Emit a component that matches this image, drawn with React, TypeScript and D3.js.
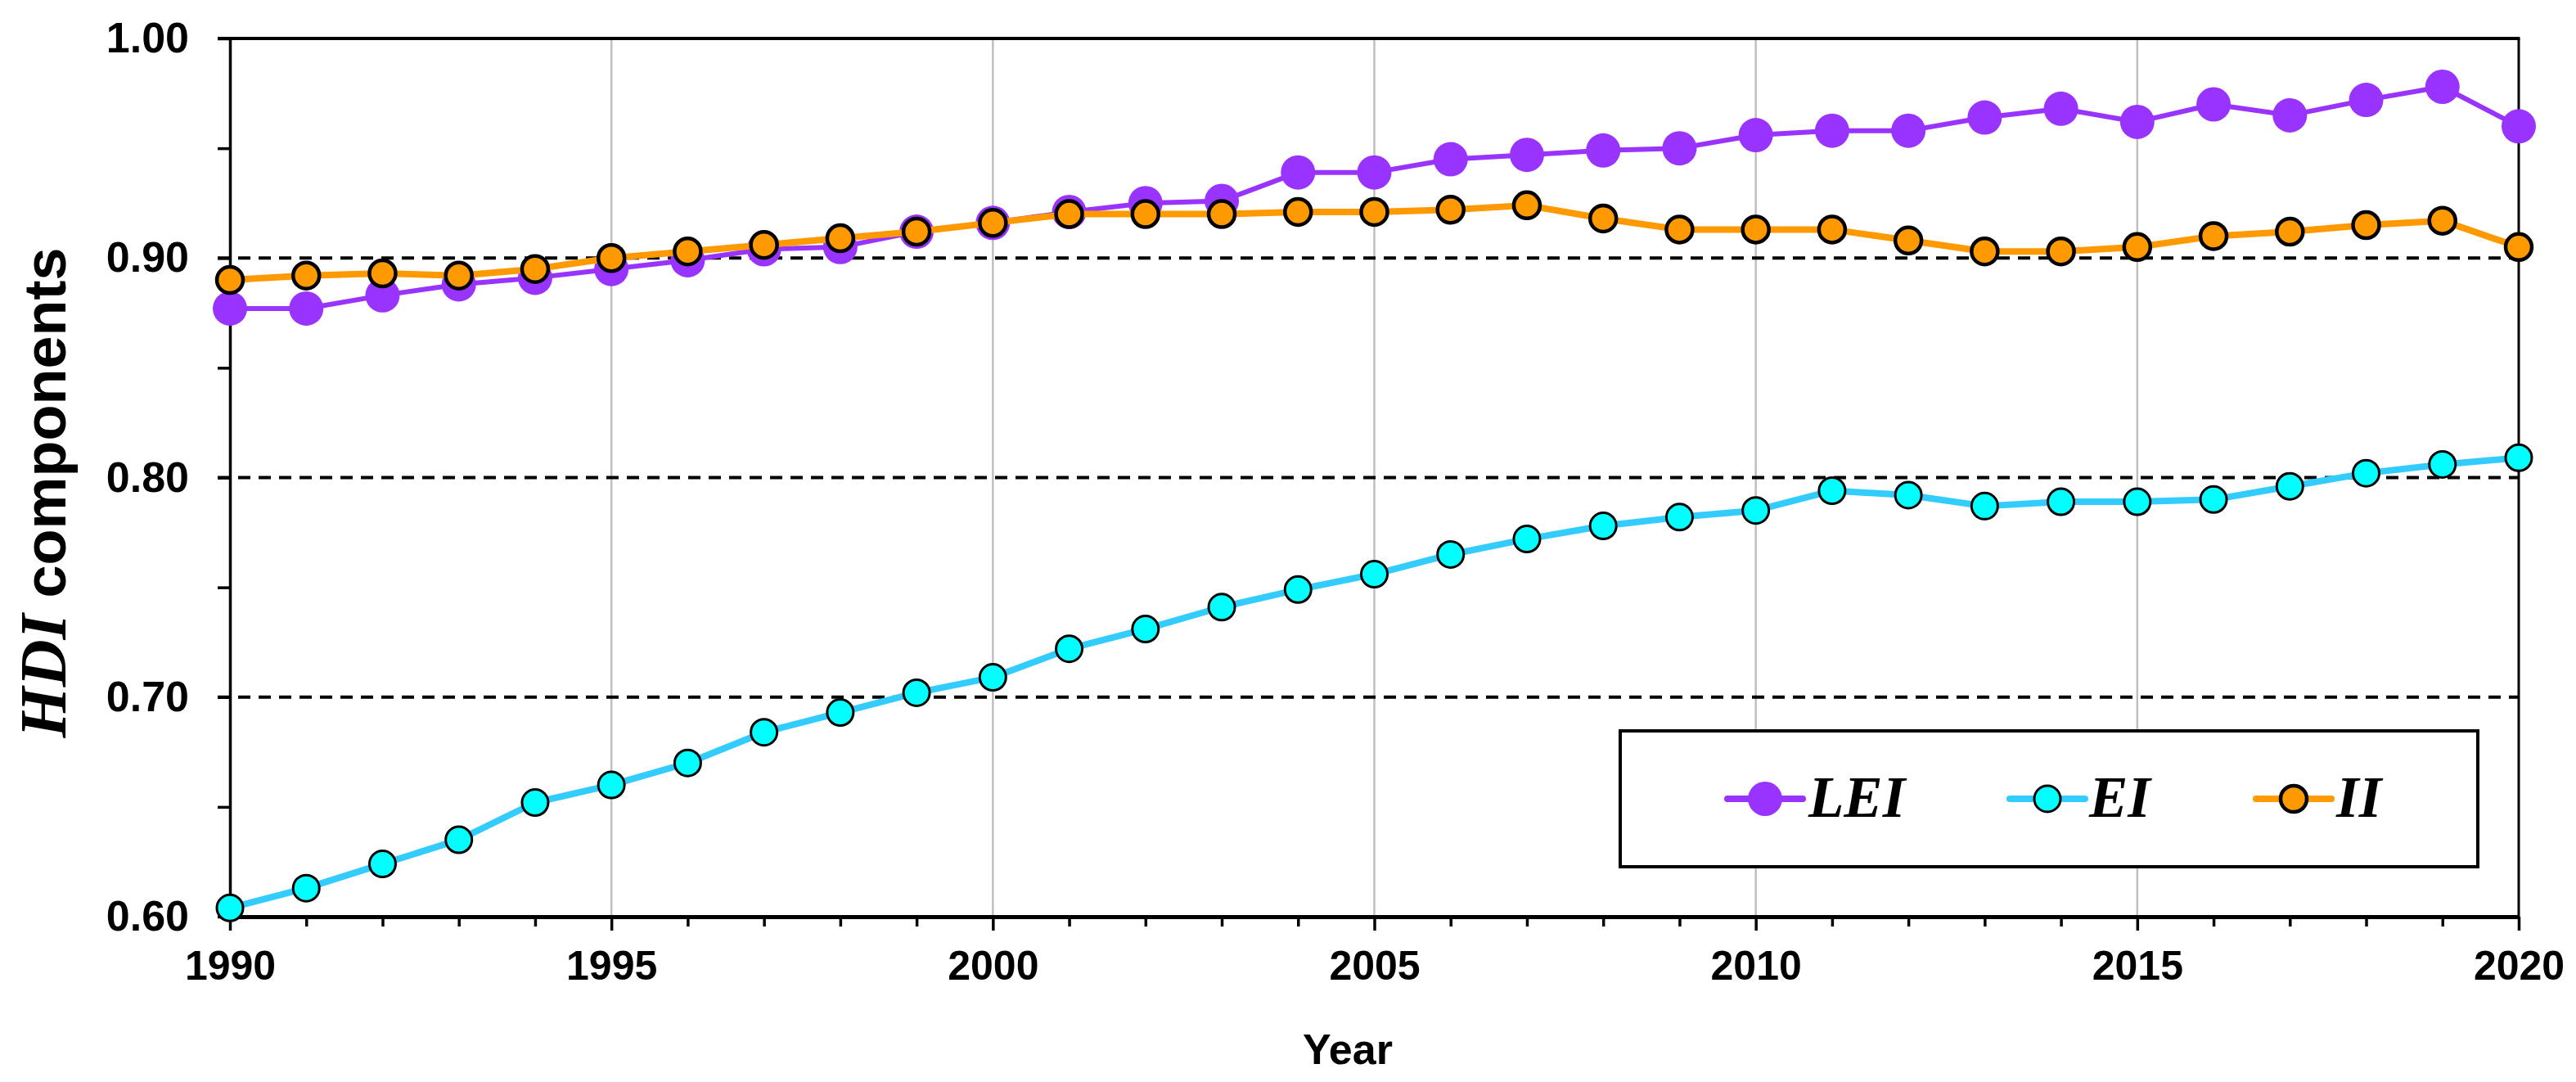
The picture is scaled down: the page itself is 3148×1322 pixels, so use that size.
import { useRef, useEffect } from "react";
import * as d3 from "d3";

const years = [
  1990, 1991, 1992, 1993, 1994, 1995, 1996, 1997, 1998, 1999, 2000, 2001, 2002, 2003, 2004, 2005,
  2006, 2007, 2008, 2009, 2010, 2011, 2012, 2013, 2014, 2015, 2016, 2017, 2018, 2019, 2020,
];

const leiValues = [
  0.877, 0.877, 0.883, 0.888, 0.891, 0.895, 0.899, 0.904, 0.905, 0.912, 0.916, 0.921, 0.925, 0.926,
  0.939, 0.939, 0.945, 0.947, 0.949, 0.95, 0.956, 0.958, 0.958, 0.964, 0.968, 0.962, 0.97, 0.965,
  0.972, 0.978, 0.96,
];

const eiValues = [
  0.604, 0.613, 0.624, 0.635, 0.652, 0.66, 0.67, 0.684, 0.693, 0.702, 0.709, 0.722, 0.731, 0.741,
  0.749, 0.756, 0.765, 0.772, 0.778, 0.782, 0.785, 0.794, 0.792, 0.787, 0.789, 0.789, 0.79, 0.796,
  0.802, 0.806, 0.809,
];

const iiValues = [
  0.89, 0.892, 0.893, 0.892, 0.895, 0.9, 0.903, 0.906, 0.909, 0.912, 0.916, 0.92, 0.92, 0.92, 0.921,
  0.921, 0.922, 0.924, 0.918, 0.913, 0.913, 0.913, 0.908, 0.903, 0.903, 0.905, 0.91, 0.912, 0.915,
  0.917, 0.905,
];

const yTicks = [0.6, 0.65, 0.7, 0.75, 0.8, 0.85, 0.9, 0.95, 1.0];
const yDashed = [0.7, 0.8, 0.9];
const xGrid = [1995, 2000, 2005, 2010, 2015];

const SANS = "'Liberation Sans', Arial, Helvetica, sans-serif";
const SERIF = "'Liberation Serif', 'Times New Roman', serif";

export default function App() {
  const svgRef = useRef<SVGSVGElement>(null);

  const width = 3148;
  const height = 1322;
  const margin = { top: 47, right: 70, bottom: 202, left: 281 };

  useEffect(() => {
    if (!svgRef.current) return;
    const svg = d3.select(svgRef.current);
    svg.selectAll("*").remove();

    const x = d3.scaleLinear().domain([1990, 2020]).range([margin.left, width - margin.right]);
    const y = d3.scaleLinear().domain([0.6, 1.0]).range([height - margin.bottom, margin.top]);

    svg.append("rect").attr("width", width).attr("height", height).attr("fill", "#fff");

    // vertical grey grid
    svg
      .append("g")
      .selectAll("line")
      .data(xGrid)
      .join("line")
      .attr("x1", (d) => x(d))
      .attr("x2", (d) => x(d))
      .attr("y1", y(1))
      .attr("y2", y(0.6))
      .attr("stroke", "#bfbfbf")
      .attr("stroke-width", 2.5);

    // dashed horizontal lines
    svg
      .append("g")
      .selectAll("line")
      .data(yDashed)
      .join("line")
      .attr("x1", x(1990) - 15)
      .attr("x2", x(2020))
      .attr("y1", (d) => y(d))
      .attr("y2", (d) => y(d))
      .attr("stroke", "#000")
      .attr("stroke-width", 4)
      .attr("stroke-dasharray", "15 10");

    // top + right frame
    svg
      .append("line")
      .attr("x1", x(1990) - 15)
      .attr("x2", x(2020) + 1.5)
      .attr("y1", y(1))
      .attr("y2", y(1))
      .attr("stroke", "#000")
      .attr("stroke-width", 4);
    svg
      .append("line")
      .attr("x1", x(2020))
      .attr("x2", x(2020))
      .attr("y1", y(1))
      .attr("y2", y(0.6))
      .attr("stroke", "#000")
      .attr("stroke-width", 3);

    // Legend box (covers grid)
    const legend = svg.append("g");
    legend
      .append("rect")
      .attr("x", 1980)
      .attr("y", 893)
      .attr("width", 1048)
      .attr("height", 166)
      .attr("fill", "#fff")
      .attr("stroke", "#000")
      .attr("stroke-width", 4);

    // Left axis
    const yAxis = d3
      .axisLeft(y)
      .tickValues(yTicks)
      .tickSize(15)
      .tickSizeOuter(0)
      .tickPadding(35)
      .tickFormat((d) => (Math.round(Number(d) * 100) % 10 === 0 ? Number(d).toFixed(2) : ""));
    svg
      .append("g")
      .attr("transform", `translate(${margin.left},0)`)
      .call(yAxis)
      .call((g) => g.select(".domain").attr("stroke-width", 3.5))
      .call((g) => g.selectAll(".tick line").attr("stroke-width", 3.5))
      .call((g) =>
        g
          .selectAll(".tick text")
          .attr("font-family", SANS)
          .attr("font-weight", "bold")
          .attr("font-size", 52)
          .attr("fill", "#000")
      );

    // Bottom axis
    const xAxis = d3
      .axisBottom(x)
      .tickValues(years)
      .tickSize(12)
      .tickSizeOuter(0)
      .tickPadding(29.5)
      .tickFormat((d) => (Number(d) % 5 === 0 ? String(d) : ""));
    svg
      .append("g")
      .attr("transform", `translate(0,${height - margin.bottom})`)
      .call(xAxis)
      .call((g) => g.select(".domain").attr("stroke-width", 5))
      .call((g) =>
        g
          .selectAll<SVGLineElement, number>(".tick line")
          .attr("stroke-width", 3.5)
          .attr("y2", (d) => (d % 5 === 0 ? 17 : 12))
      )
      .call((g) =>
        g
          .selectAll(".tick text")
          .attr("font-family", SANS)
          .attr("font-weight", "bold")
          .attr("font-size", 50)
          .attr("fill", "#000")
      );

    // Axis titles
    svg
      .append("text")
      .attr("x", 1647)
      .attr("y", 1300)
      .attr("text-anchor", "middle")
      .attr("font-family", SANS)
      .attr("font-weight", "bold")
      .attr("font-size", 52)
      .text("Year");

    const yTitle = svg
      .append("text")
      .attr("transform", "translate(80,602) rotate(-90)")
      .attr("text-anchor", "middle");
    yTitle
      .append("tspan")
      .attr("font-family", SERIF)
      .attr("font-style", "italic")
      .attr("font-weight", "bold")
      .attr("font-size", 80)
      .text("HDI");
    yTitle
      .append("tspan")
      .attr("font-family", SANS)
      .attr("font-weight", "bold")
      .attr("font-size", 72)
      .text(" components");

    const line = d3
      .line<number>()
      .x((_, i) => x(years[i]))
      .y((d) => y(d));

    const series = [
      { name: "LEI", values: leiValues, line: "#9933ff", lw: 6, fill: "#9933ff", stroke: "none", sw: 0, r: 21, lx: 2157, tx: 2210 },
      { name: "EI", values: eiValues, line: "#33ccff", lw: 8, fill: "#00ffff", stroke: "#000", sw: 3, r: 16, lx: 2502, tx: 2553 },
      { name: "II", values: iiValues, line: "#ff9900", lw: 8, fill: "#ff9900", stroke: "#000", sw: 4.5, r: 16, lx: 2803, tx: 2855 },
    ];

    series.forEach((s) => {
      const g = svg.append("g");
      g.append("path")
        .datum(s.values)
        .attr("d", line)
        .attr("fill", "none")
        .attr("stroke", s.line)
        .attr("stroke-width", s.lw)
        .attr("stroke-linejoin", "round");
      g.selectAll("circle")
        .data(s.values)
        .join("circle")
        .attr("cx", (_, i) => x(years[i]))
        .attr("cy", (d) => y(d))
        .attr("r", s.r)
        .attr("fill", s.fill)
        .attr("stroke", s.stroke)
        .attr("stroke-width", s.sw);

      // legend entry
      const ly = 976;
      legend
        .append("line")
        .attr("x1", s.lx - 46)
        .attr("x2", s.lx + 46)
        .attr("y1", ly)
        .attr("y2", ly)
        .attr("stroke", s.line)
        .attr("stroke-width", 8)
        .attr("stroke-linecap", "round");
      legend
        .append("circle")
        .attr("cx", s.lx)
        .attr("cy", ly)
        .attr("r", s.r)
        .attr("fill", s.fill)
        .attr("stroke", s.stroke)
        .attr("stroke-width", s.sw);
      legend
        .append("text")
        .attr("x", s.tx)
        .attr("y", 998)
        .attr("font-family", SERIF)
        .attr("font-style", "italic")
        .attr("font-weight", "bold")
        .attr("font-size", 71)
        .text(s.name);
    });
  }, []);

  return (
    <div style={{ position: "absolute", left: 0, top: 0 }}>
      <svg ref={svgRef} width={width} height={height} style={{ display: "block" }} />
    </div>
  );
}
